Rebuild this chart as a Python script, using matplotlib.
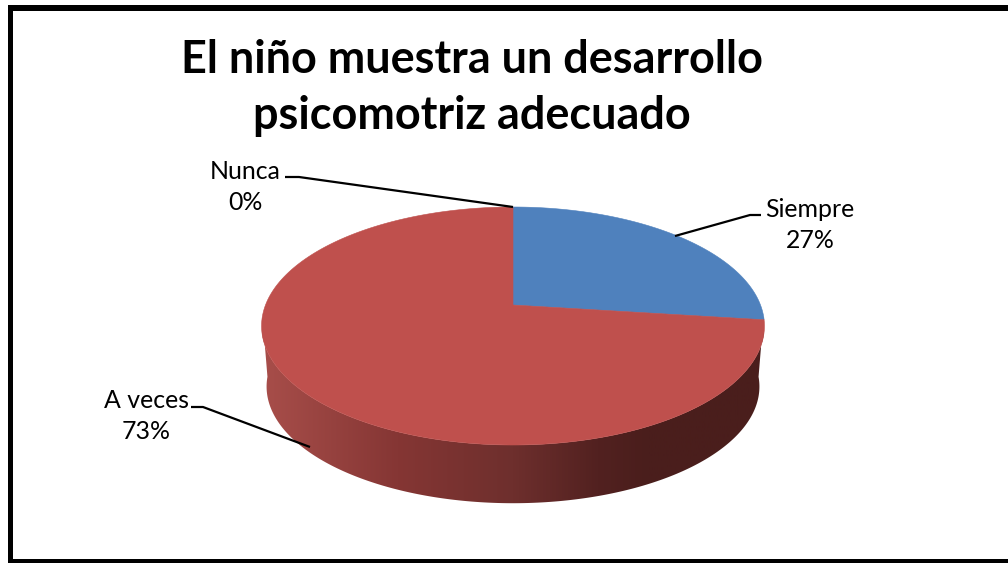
"""Pie chart with a perspective 3D look -> out.png"""
import numpy as np
import matplotlib
matplotlib.use("Agg")
import matplotlib.pyplot as plt
from matplotlib.colors import LinearSegmentedColormap
from matplotlib.patches import Polygon, Rectangle

W, H = 1008, 563

TITLE = "El niño muestra un desarrollo\npsicomotriz adecuado"
CATEGORIES = ["Siempre", "A veces", "Nunca"]
SHARES = [27, 73, 0]
COLORS = ["#4f81bd", "#bf504d", "#bf504d"]

# pie geometry, in pixels
CX, CY = 513, 305
RX, RY, PERSP = 247.5, 115.3, 0.1765
DEPTH_CY, DEPTH_SCALE = 366, 0.98

SIDE_CMAP = LinearSegmentedColormap.from_list(
    "side",
    [(0.0, "#a84e4a"), (0.27, "#853634"), (0.5, "#6e2f2d"),
     (0.67, "#522120"), (0.77, "#4a1e1c"), (1.0, "#4a1e1c")],
)


def rim(theta, cy=CY, scale=1.0):
    # theta runs clockwise from the top of the pie
    u, v = np.sin(theta), np.cos(theta)
    d = 1 + PERSP * v
    return CX + scale * RX * u / d, cy - scale * RY * v / d


def main():
    plt.rcParams["font.family"] = ["Lato", "DejaVu Sans"]
    fig = plt.figure(figsize=(W / 100, H / 100), dpi=100, facecolor="white")
    ax = fig.add_axes([0, 0, 1, 1])
    ax.set_xlim(0, W)
    ax.set_ylim(H, 0)
    ax.axis("off")

    # outer frame: the right side runs off the canvas
    ax.add_patch(Rectangle((8, 5), W, 6, fc="black", ec="none", zorder=1))
    ax.add_patch(Rectangle((8, 5), 5, H, fc="black", ec="none", zorder=1))
    ax.add_patch(Rectangle((8, 559), W, 4, fc="black", ec="none", zorder=1))

    # side wall, shaded left to right
    front = np.linspace(np.pi * 0.53, np.pi * 1.47, 200)
    tx, ty = rim(front)
    bx, by = rim(front, DEPTH_CY, DEPTH_SCALE)
    side = Polygon(
        np.r_[np.c_[tx, ty], np.c_[bx, by][::-1]], closed=True, fc="none", ec="none"
    )
    ax.add_patch(side)
    grad = np.linspace(0, 1, 256).reshape(1, -1)
    img = ax.imshow(
        grad, extent=[262, 764, H, 0], cmap=SIDE_CMAP, aspect="auto", zorder=2
    )
    img.set_clip_path(side)
    ax.set_xlim(0, W)
    ax.set_ylim(H, 0)

    # top face, one polygon per share
    start = 0.0
    for share, color in zip(SHARES, COLORS):
        end = start + share / sum(SHARES) * 2 * np.pi
        if share > 0:
            th = np.linspace(start, end, 200)
            x, y = rim(th)
            pts = np.r_[[[CX, CY]], np.c_[x, y]]
            ax.add_patch(Polygon(pts, closed=True, fc=color, ec=color, lw=0.4, zorder=3))
        start = end

    # data labels with leader lines
    labels = [
        (f"{CATEGORIES[0]}\n{SHARES[0]}%", (810, 225), [(675, 236), (750, 215), (761, 215)]),
        (f"{CATEGORIES[1]}\n{SHARES[1]}%", (146, 416), [(310, 447), (203, 407), (191, 407)]),
        (f"{CATEGORIES[2]}\n{SHARES[2]}%", (245, 187), [(513, 207), (299, 177), (285, 177)]),
    ]
    for text, (tx_, ty_), line in labels:
        ax.text(tx_, ty_, text, ha="center", va="center", fontsize=17.9, color="black",
                linespacing=1.42, zorder=5)
        lx, ly = zip(*line)
        ax.plot(lx, ly, color="black", lw=1.6, zorder=4, solid_capstyle="butt")

    ax.text(472, 88, TITLE, ha="center", va="center", fontsize=32.4, fontweight="bold",
            color="black", linespacing=1.4, zorder=5)

    fig.savefig("out.png", dpi=100, facecolor="white")
    plt.close(fig)


if __name__ == "__main__":
    main()
